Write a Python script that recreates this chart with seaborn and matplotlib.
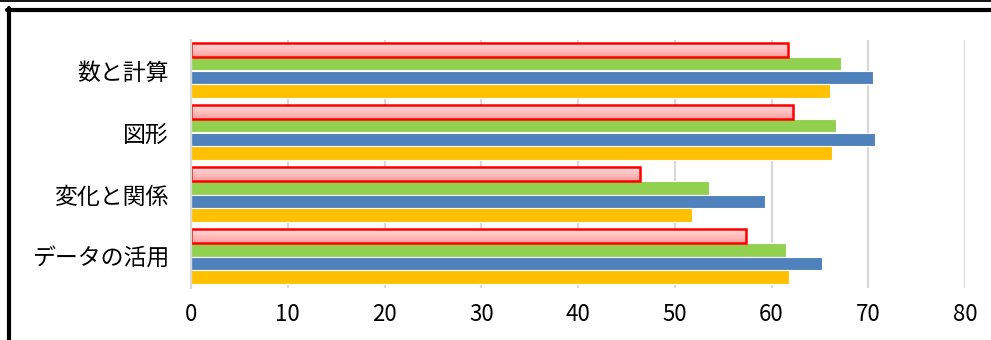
import numpy as np
import matplotlib
matplotlib.use("Agg")
import matplotlib.pyplot as plt
from matplotlib.lines import Line2D
from matplotlib.colors import LinearSegmentedColormap
import pandas as pd
import seaborn as sns

# data
categories = ["数と計算", "図形", "変化と関係", "データの活用"]
series = ["系列1", "系列2", "系列3", "系列4"]
s1 = [61.7, 62.2, 46.4, 57.4]   # pink / red outline
s2 = [67.2, 66.7, 53.5, 61.5]   # green
s3 = [70.5, 70.7, 59.3, 65.2]   # blue
s4 = [66.0, 66.3, 51.8, 61.8]   # yellow
colors = ["#FFB8B8", "#92D050", "#4F81BD", "#FFC000"]

df = pd.DataFrame({
    "領域": categories * 4,
    "系列": np.repeat(series, len(categories)),
    "値": s1 + s2 + s3 + s4,
})

sns.set_style("white")
plt.rcParams["font.family"] = ["Noto Sans CJK JP", "DejaVu Sans"]

fig = plt.figure(figsize=(9.91, 3.40), dpi=100)
ax = fig.add_axes([191 / 991, 1 - 287.5 / 340, (965 - 191) / 991, (287.5 - 39.5) / 340])

sns.barplot(data=df, y="領域", x="値", hue="系列", orient="h",
            palette=colors, saturation=1, width=0.89, edgecolor="white",
            linewidth=0.8, legend=False, ax=ax)

# gradient pink fill with red outline for first series
cmap = LinearSegmentedColormap.from_list("pink", ["#FFDCDC", "#FFA0A0"])
grad = np.linspace(0, 1, 64).reshape(-1, 1)
for p in ax.containers[0]:
    x0, y0 = p.get_x(), p.get_y()
    w, h = p.get_width(), p.get_height()
    ax.imshow(grad, cmap=cmap, aspect="auto", extent=[x0, x0 + w, y0 + h, y0],
              zorder=p.get_zorder(), interpolation="bilinear")
    p.set_facecolor("none")
    p.set_edgecolor("#FF0000")
    p.set_linewidth(1.8)
    p.set_zorder(p.get_zorder() + 0.5)

ax.set_xlim(0, 80)
ax.set_ylim(3.5, -0.5)
ax.set_xticks(range(0, 81, 10))
ax.xaxis.grid(True, color="#D9D9D9", linewidth=1.6)
ax.yaxis.grid(False)
ax.set_axisbelow(True)
for side in ["top", "right", "bottom"]:
    ax.spines[side].set_visible(False)
ax.spines["left"].set_color("#D9D9D9")
ax.spines["left"].set_linewidth(1.6)
ax.set_xlabel("")
ax.set_ylabel("")
ax.tick_params(axis="x", length=0, pad=11, labelsize=16, labelcolor="black")
ax.tick_params(axis="y", length=0, pad=16, labelsize=16.5, labelcolor="black")

# frame lines around the chart
W, H = 991, 340
fig.add_artist(Line2D([0, 1], [1 - 0.9 / H, 1 - 0.9 / H], color="black", lw=1.3))
fig.add_artist(Line2D([6.8 / W, 1], [1 - 10.3 / H, 1 - 10.3 / H], color="black", lw=3.0))
fig.add_artist(Line2D([8.9 / W, 8.9 / W], [0, 1 - 8.3 / H], color="black", lw=3.0))

fig.savefig("out.png", dpi=100)
